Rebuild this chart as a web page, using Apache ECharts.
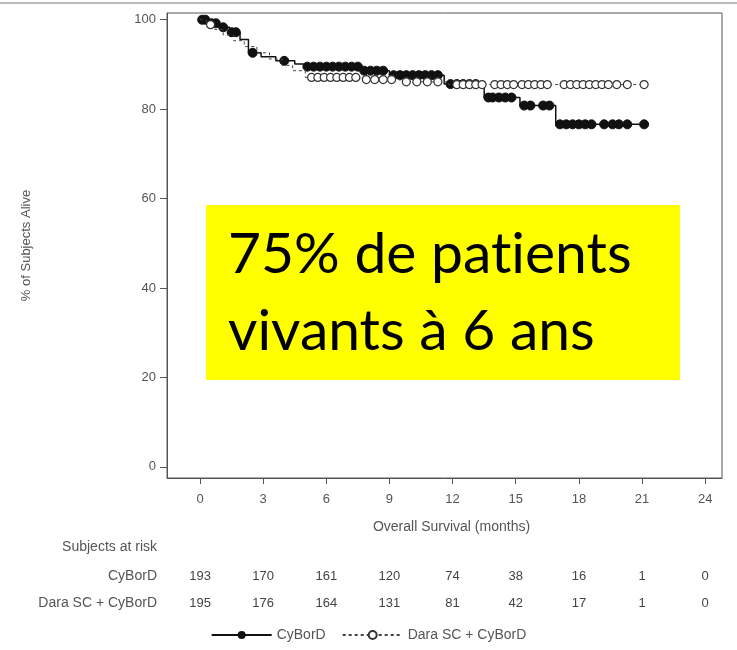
<!DOCTYPE html>
<html>
<head>
<meta charset="utf-8">
<script src="https://cdn.jsdelivr.net/npm/echarts@6/dist/echarts.min.js"></script>
<style>
  html, body { margin: 0; padding: 0; background: #fff; }
  #chart { width: 737px; height: 650px; }
</style>
</head>
<body>
<div id="chart"></div>
<script>
// months on the x axis, % alive on the y axis
var monthTicks = [0, 3, 6, 9, 12, 15, 18, 21, 24];
var survTicks = [0, 20, 40, 60, 80, 100];

// number at risk
var cybordRisk = [193, 170, 161, 120, 74, 38, 16, 1, 0];
var daraRisk = [195, 176, 164, 131, 81, 42, 17, 1, 0];

// Kaplan-Meier steps (time, survival after the step)
var cybordStepT = [0, 0.4, 0.9, 1.4, 1.9, 2.3, 2.9, 3.6, 4.5, 5.0, 7.6, 9.0, 11.6, 13.5, 15.2, 16.9, 21.1];
var cybordStepS = [100, 99.2, 98.3, 97.2, 95.6, 92.6, 91.7, 90.8, 90.1, 89.5, 88.6, 87.6, 85.6, 82.6, 80.8, 76.6, 76.6];
var daraStepT = [0, 0.3, 0.7, 1.1, 1.6, 2.1, 2.7, 3.3, 3.9, 4.4, 5.0, 7.6, 9.5, 11.8, 21.1];
var daraStepS = [100, 98.9, 97.8, 96.6, 95.3, 94.0, 92.6, 91.2, 89.8, 88.6, 87.1, 86.6, 86.1, 85.5, 85.5];

// censored subjects
var cybordCensorT = [0.1, 0.25, 0.55, 0.75, 1.1, 1.5, 1.7, 2.5, 4.0,
  5.1, 5.4, 5.7, 6.0, 6.3, 6.6, 6.9, 7.2, 7.5, 7.8, 8.1, 8.4, 8.7,
  9.2, 9.5, 9.8, 10.1, 10.4, 10.7, 11.0, 11.3, 11.9, 12.2, 12.5, 12.8, 13.1,
  13.7, 13.9, 14.2, 14.5, 14.8, 15.4, 15.7, 16.3, 16.6,
  17.1, 17.4, 17.7, 18.0, 18.3, 18.6, 19.2, 19.6, 19.9, 20.3, 21.1];
var cybordCensorS = [100, 100, 99.2, 99.2, 98.3, 97.2, 97.2, 92.6, 90.8,
  89.5, 89.5, 89.5, 89.5, 89.5, 89.5, 89.5, 89.5, 89.5, 88.6, 88.6, 88.6, 88.6,
  87.6, 87.6, 87.6, 87.6, 87.6, 87.6, 87.6, 87.6, 85.6, 85.6, 85.6, 85.6, 85.6,
  82.6, 82.6, 82.6, 82.6, 82.6, 80.8, 80.8, 80.8, 80.8,
  76.6, 76.6, 76.6, 76.6, 76.6, 76.6, 76.6, 76.6, 76.6, 76.6, 76.6];
var daraCensorT = [0.5, 5.3, 5.6, 5.9, 6.2, 6.5, 6.8, 7.1, 7.4, 7.9, 8.3, 8.7, 9.1,
  9.8, 10.3, 10.8, 11.3, 12.2, 12.5, 12.8, 13.1, 13.4, 14.0, 14.3, 14.6, 14.9,
  15.3, 15.6, 15.9, 16.2, 16.5, 17.3, 17.6, 17.9, 18.2, 18.5, 18.8, 19.1, 19.4,
  19.8, 20.3, 21.1];
var daraCensorS = [98.9, 87.1, 87.1, 87.1, 87.1, 87.1, 87.1, 87.1, 87.1, 86.6, 86.6, 86.6, 86.6,
  86.1, 86.1, 86.1, 86.1, 85.5, 85.5, 85.5, 85.5, 85.5, 85.5, 85.5, 85.5, 85.5,
  85.5, 85.5, 85.5, 85.5, 85.5, 85.5, 85.5, 85.5, 85.5, 85.5, 85.5, 85.5, 85.5,
  85.5, 85.5, 85.5];

// merge steps and censor marks into one step line, marks only on censored points
function buildCurve(stepT, stepS, censT, censS) {
  var pts = [];
  for (var i = 0; i < stepT.length; i++) {
    pts.push({ value: [stepT[i], stepS[i]], symbol: 'none', k: 0 });
  }
  for (var j = 0; j < censT.length; j++) {
    pts.push({ value: [censT[j], censS[j]], k: 1 });
  }
  pts.sort(function (a, b) { return a.value[0] - b.value[0] || a.k - b.k; });
  return pts.map(function (p) {
    var d = { value: p.value };
    if (p.symbol) d.symbol = p.symbol;
    return d;
  });
}

var font = '"Liberation Sans", Arial, sans-serif';
var bigFont = '57px Lato, "Open Sans", sans-serif';
var chart = echarts.init(document.getElementById('chart'));

function riskAxis(offset, counts) {
  return {
    type: 'value',
    gridIndex: 0,
    position: 'bottom',
    offset: offset,
    min: -1.57,
    max: 24.8,
    axisLine: { show: false, onZero: false },
    axisTick: { show: false },
    splitLine: { show: false },
    axisLabel: {
      customValues: monthTicks,
      color: '#444',
      fontFamily: font,
      fontSize: 13,
      formatter: function (v) { return String(counts[monthTicks.indexOf(v)]); }
    }
  };
}

chart.setOption({
  backgroundColor: '#fff',
  animation: false,
  grid: {
    left: 167,
    right: 15,
    top: 13,
    bottom: 172,
    show: true,
    borderColor: '#555',
    borderWidth: 1
  },
  xAxis: [
    {
      type: 'value',
      min: -1.57,
      max: 24.8,
      name: 'Overall Survival (months)',
      nameLocation: 'middle',
      nameGap: 42,
      nameTextStyle: { color: '#555', fontFamily: font, fontSize: 14, padding: [0, 0, 0, 14] },
      axisLine: { onZero: false, lineStyle: { color: '#555' } },
      axisTick: { customValues: monthTicks, inside: false, length: 6, lineStyle: { color: '#555' } },
      axisLabel: { customValues: monthTicks, color: '#555', fontFamily: font, fontSize: 13, margin: 15 },
      splitLine: { show: false }
    },
    riskAxis(84, cybordRisk),
    riskAxis(111, daraRisk)
  ],
  yAxis: {
    type: 'value',
    min: -2.5,
    max: 101.5,
    name: '% of Subjects Alive',
    nameLocation: 'middle',
    nameGap: 134,
    nameTextStyle: { color: '#555', fontFamily: font, fontSize: 13 },
    axisLine: { onZero: false, lineStyle: { color: '#555' } },
    axisTick: { customValues: survTicks, inside: false, length: 7, lineStyle: { color: '#555' } },
    axisLabel: { customValues: survTicks, color: '#555', fontFamily: font, fontSize: 13, margin: 11 },
    splitLine: { show: false }
  },
  legend: {
    bottom: 3,
    left: 'center',
    itemWidth: 60,
    itemHeight: 10,
    itemGap: 16,
    textStyle: { color: '#555', fontFamily: font, fontSize: 14 },
    data: ['CyBorD', 'Dara SC + CyBorD']
  },
  series: [
    {
      name: 'Dara SC + CyBorD',
      type: 'line',
      step: 'end',
      data: buildCurve(daraStepT, daraStepS, daraCensorT, daraCensorS),
      symbol: 'circle',
      symbolSize: 8,
      showAllSymbol: true,
      lineStyle: { color: '#444', width: 1, type: [3, 3] },
      itemStyle: { color: '#fff', borderColor: '#333', borderWidth: 1.2 },
      z: 3
    },
    {
      name: 'CyBorD',
      type: 'line',
      step: 'end',
      data: buildCurve(cybordStepT, cybordStepS, cybordCensorT, cybordCensorS),
      symbol: 'circle',
      symbolSize: 9,
      showAllSymbol: true,
      lineStyle: { color: '#111', width: 1.5 },
      itemStyle: { color: '#111', borderColor: '#111' },
      z: 2
    }
  ],
  graphic: [
    { type: 'line', shape: { x1: 0, y1: 3, x2: 737, y2: 3 }, style: { stroke: '#bbb', lineWidth: 2 } },
    { type: 'text', right: 737 - 157, top: 540, style: { text: 'Subjects at risk', fill: '#555', font: '14px ' + font, textAlign: 'right' } },
    { type: 'text', right: 737 - 157, top: 569, style: { text: 'CyBorD', fill: '#555', font: '14px ' + font, textAlign: 'right' } },
    { type: 'text', right: 737 - 157, top: 596, style: { text: 'Dara SC + CyBorD', fill: '#555', font: '14px ' + font, textAlign: 'right' } },
    { type: 'rect', shape: { x: 206, y: 205, width: 474, height: 175 }, style: { fill: '#ffff00' }, z: 100 },
    { type: 'text', x: 228, y: 226, style: { text: '75% de pat\u200Cients', fill: '#000', font: bigFont }, z: 101 },
    { type: 'text', x: 228, y: 303, style: { text: 'vivants à 6 ans', fill: '#000', font: bigFont }, z: 101 }
  ]
});
</script>
</body>
</html>
